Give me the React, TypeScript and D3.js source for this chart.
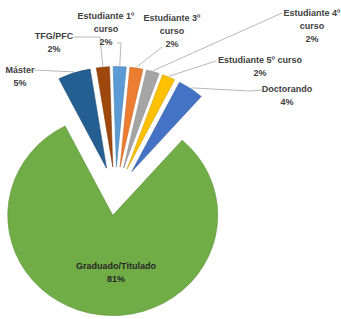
import React from "react";
import * as d3 from "d3";

// Data (in Excel series order)
const categories = [
  "Estudiante 1º curso",
  "Estudiante 3º curso",
  "Estudiante 4º curso",
  "Estudiante 5º curso",
  "Doctorando",
  "Graduado/Titulado",
  "Máster",
  "TFG/PFC",
];
const values = [2, 2, 2, 2, 4, 81, 5, 2];
const labelLines = [
  ["Estudiante 1º", "curso", "2%"],
  ["Estudiante 3º", "curso", "2%"],
  ["Estudiante 4º", "curso", "2%"],
  ["Estudiante 5º curso", "2%"],
  ["Doctorando", "4%"],
  ["Graduado/Titulado", "81%"],
  ["Máster", "5%"],
  ["TFG/PFC", "2%"],
];
const colors = ["#5B9BD5", "#ED7D31", "#A5A5A5", "#FFC000", "#4472C4", "#70AD47", "#255E91", "#9E480E"];

// Layout: label centre / first line position and leader line start (screen px)
const labelLayout = [
  { x: 106, y: 19, line: [[117, 43], [121, 43]] },
  { x: 172, y: 21, line: [[162, 47]] },
  { x: 312, y: 16, line: [[282, 13]] },
  { x: 260, y: 63, line: [[216, 61]] },
  { x: 287, y: 92, line: [[262, 90], [250, 91]] },
  { x: 116, y: 269, line: null },
  { x: 20, y: 73, line: [[34, 70]] },
  { x: 54, y: 39, line: [[74, 37], [100, 37]] },
];

const W = 341;
const H = 319;
const cx = 115.5;
const cy = 194.5;
const R = 105;
const squash = 0.955;
const explodeSmall = 29;
const explodeBig = 22;
const deg = Math.PI / 180;

export default function App() {
  const data = categories.map((c, i) => ({ name: c, value: values[i], i }));
  const start = -1.8 * deg;
  const pie = d3.pie<any>().value((d) => d.value).sort(null).startAngle(start).endAngle(start + 2 * Math.PI);
  const arcs = pie(data);
  const arc = d3.arc<any>().innerRadius(0).outerRadius(R);

  const explodeOf = (i: number) => (values[i] > 50 ? explodeBig : explodeSmall);
  const toScreen = (u: number, v: number) => [cx + u, cy + v * squash];

  return (
    <svg width={W} height={H} style={{ position: "absolute", left: 0, top: 0, background: "#fff" }}>
      <g transform={`translate(${cx},${cy}) scale(1,${squash})`}>
        {arcs.map((a, k) => {
          const b = (a.startAngle + a.endAngle) / 2;
          const e = explodeOf(a.data.i);
          const c = colors[a.data.i];
          return (
            <path
              key={k}
              d={arc(a) as string}
              transform={`translate(${e * Math.sin(b)},${-e * Math.cos(b)})`}
              fill={c}
              stroke={d3.color(c)!.darker(0.5).toString()}
              strokeWidth={0.6}
            />
          );
        })}
      </g>
      {arcs.map((a, k) => {
        const lay = labelLayout[a.data.i];
        if (!lay.line) return null;
        const b = (a.startAngle + a.endAngle) / 2;
        const rr = explodeOf(a.data.i) + R + 1;
        const end = toScreen(rr * Math.sin(b), -rr * Math.cos(b));
        const pts = [...lay.line, end];
        return (
          <polyline
            key={"l" + k}
            points={pts.map((p) => p.join(",")).join(" ")}
            fill="none"
            stroke="#A6A6A6"
            strokeWidth={0.8}
          />
        );
      })}
      {labelLines.map((lines, i) => {
        const lay = labelLayout[i];
        return (
          <text
            key={"t" + i}
            x={lay.x}
            y={lay.y}
            textAnchor="middle"
            fontFamily="'Liberation Sans', Arial, sans-serif"
            fontSize={9}
            fontWeight="bold"
            fill={values[i] > 50 ? "#262626" : "#404040"}
          >
            {lines.map((t, j) => (
              <tspan key={j} x={lay.x} dy={j === 0 ? 0 : 13}>
                {t}
              </tspan>
            ))}
          </text>
        );
      })}
    </svg>
  );
}
